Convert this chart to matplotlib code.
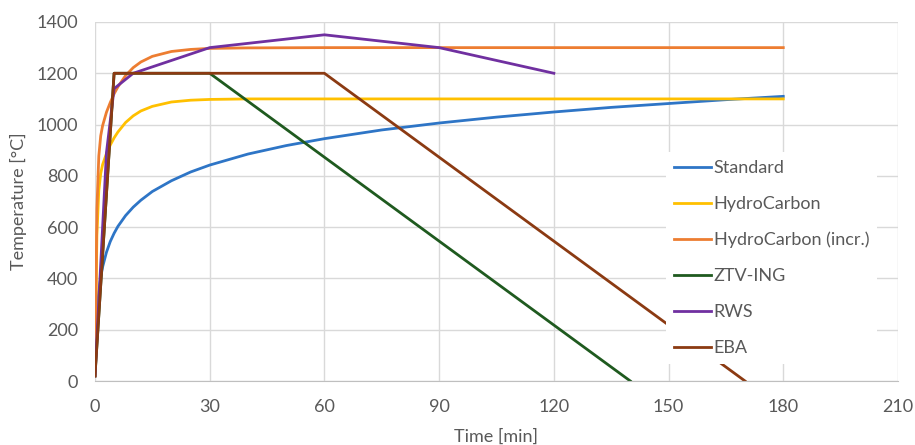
import matplotlib
matplotlib.use("Agg")
import matplotlib.pyplot as plt

plt.rcParams['font.family'] = ['Lato', 'DejaVu Sans']

# Standard
std_t = [0, 0.5, 1, 1.5, 2, 3, 4, 5, 6, 8, 10, 12, 15, 20, 25, 30, 40, 50, 60, 75, 90,
         105, 120, 135, 150, 165, 180]
std_T = [20, 261, 349, 404, 445, 502, 544, 576, 603, 645, 678, 705, 739, 781, 815, 842, 885,
         918, 945, 979, 1006, 1029, 1049, 1067, 1082, 1097, 1110]
# HydroCarbon
hc_t = [0, 0.5, 1, 1.5, 2, 3, 4, 5, 6, 8, 10, 12, 15, 20, 25, 30, 40, 60, 120, 180]
hc_T = [20, 568, 743, 809, 844, 887, 920, 948, 971, 1008, 1034, 1053, 1071, 1088, 1095, 1098,
        1100, 1100, 1100, 1100]
# HydroCarbon (incr.)
hci_t = [0, 0.5, 1, 1.5, 2, 3, 4, 5, 6, 8, 10, 12, 15, 20, 25, 30, 40, 60, 120, 180]
hci_T = [20, 670, 877, 956, 996, 1048, 1086, 1120, 1147, 1191, 1222, 1244, 1266, 1285, 1293,
         1297, 1299, 1300, 1300, 1300]
# ZTV-ING
ztv_t = [0, 5, 30, 140]
ztv_T = [20, 1200, 1200, 0]
# RWS
rws_t = [0, 3, 5, 10, 30, 60, 90, 120]
rws_T = [20, 890, 1140, 1200, 1300, 1350, 1300, 1200]
# EBA
eba_t = [0, 5, 60, 170]
eba_T = [20, 1200, 1200, 0]

labels = ["Standard", "HydroCarbon", "HydroCarbon (incr.)", "ZTV-ING", "RWS", "EBA"]
colors = ["#2E75C6", "#FFC000", "#ED7D31", "#1F5A1F", "#7030A0", "#8B3A12"]

fig = plt.figure(figsize=(9.15, 4.45), dpi=100)
ax = fig.add_axes([0.1038, 0.1438, 0.8776, 0.8068])

series = [(std_t, std_T), (hc_t, hc_T), (hci_t, hci_T), (ztv_t, ztv_T), (rws_t, rws_T), (eba_t, eba_T)]
for (t, T), lab, c in zip(series, labels, colors):
    ax.plot(t, T, color=c, lw=2.0, label=lab, solid_joinstyle='round')

ax.set_xlim(0, 210)
ax.set_ylim(0, 1400)
ax.set_xticks(range(0, 211, 30))
ax.set_yticks(range(0, 1401, 200))
ax.grid(True, color="#D9D9D9", lw=1.0)
ax.set_axisbelow(True)
for s in ["top", "right", "left"]:
    ax.spines[s].set_visible(False)
ax.spines["bottom"].set_color("#BFBFBF")
ax.tick_params(axis="x", length=0, colors="#595959", labelsize=13, pad=13)
ax.tick_params(axis="y", length=0, colors="#595959", labelsize=13, pad=12)
ax.set_xlabel("Time [min]", color="#595959", fontsize=13, labelpad=10)
ax.set_ylabel("Temperature [°C]", color="#595959", fontsize=13, labelpad=7)

leg = ax.legend(loc="upper left", bbox_to_anchor=(0.711, 0.638), borderaxespad=0,
                frameon=True, fancybox=False, framealpha=1, edgecolor="none",
                facecolor="white", fontsize=13, handlelength=2.05,
                handletextpad=0.15, labelspacing=1.1, borderpad=0.45)
for txt in leg.get_texts():
    txt.set_color("#595959")

fig.savefig("out.png", dpi=100)
